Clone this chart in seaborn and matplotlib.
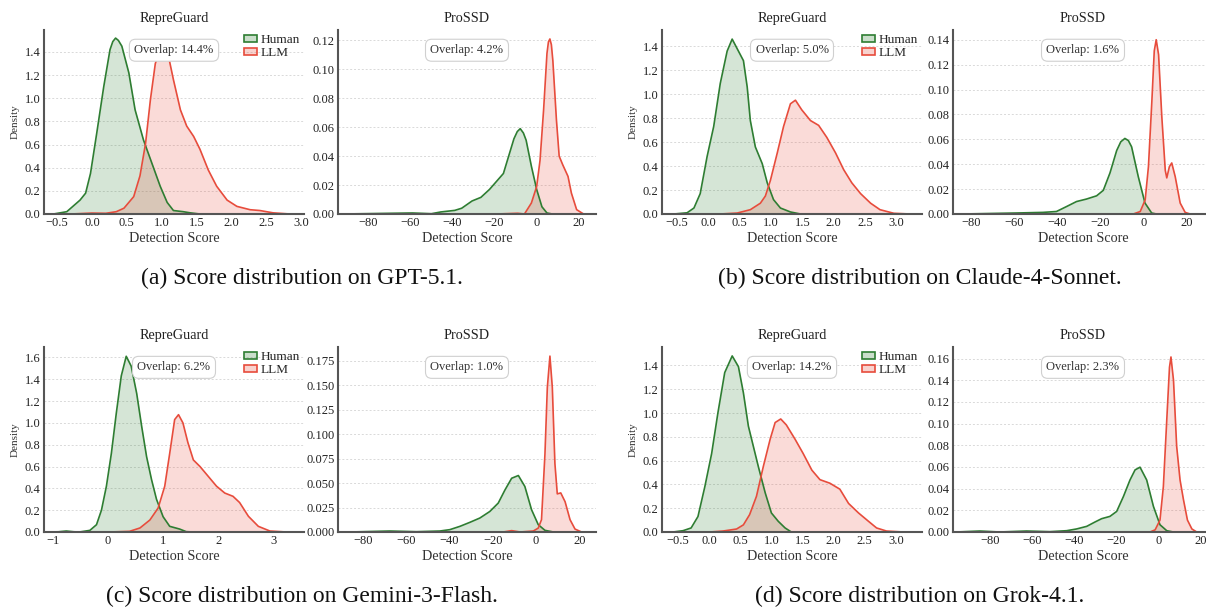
import numpy as np
import pandas as pd
import matplotlib
matplotlib.use("Agg")
import matplotlib.pyplot as plt
from matplotlib.patches import Patch
from matplotlib.ticker import MultipleLocator
import seaborn as sns

# ---------------- data ----------------
models = ["GPT-5.1", "Claude-4-Sonnet", "Gemini-3-Flash", "Grok-4.1"]
captions = ["(a) Score distribution on GPT-5.1.",
            "(b) Score distribution on Claude-4-Sonnet.",
            "(c) Score distribution on Gemini-3-Flash.",
            "(d) Score distribution on Grok-4.1."]
methods = ["RepreGuard", "ProSSD"]
overlaps = [[14.4, 4.2], [5.0, 1.6], [6.2, 1.0], [14.2, 2.3]]

# GPT-5.1
gpt_rg_h_x = [-0.55, -0.36, -0.17, -0.09, -0.02, 0.07, 0.17, 0.26, 0.30, 0.34, 0.38, 0.43, 0.53, 0.62, 0.74, 0.86, 0.98, 1.08, 1.17, 1.31, 1.41, 1.55]
gpt_rg_h_y = [0, 0.02, 0.12, 0.18, 0.35, 0.70, 1.10, 1.42, 1.49, 1.52, 1.50, 1.45, 1.22, 0.90, 0.64, 0.44, 0.24, 0.10, 0.03, 0.02, 0.01, 0]
gpt_rg_l_x = [-0.30, 0.0, 0.20, 0.35, 0.46, 0.60, 0.69, 0.77, 0.84, 0.91, 0.98, 1.03, 1.10, 1.17, 1.27, 1.36, 1.46, 1.55, 1.67, 1.79, 1.94, 2.08, 2.27, 2.41, 2.60, 2.84]
gpt_rg_l_y = [0, 0.008, 0.006, 0.02, 0.05, 0.15, 0.33, 0.61, 0.99, 1.30, 1.42, 1.44, 1.36, 1.16, 0.90, 0.76, 0.67, 0.56, 0.38, 0.24, 0.12, 0.066, 0.037, 0.03, 0.01, 0]
gpt_ps_h_x = [-92, -59, -50, -45.6, -38.9, -35.6, -30.7, -26.5, -22.4, -19.1, -15.8, -13.3, -10.8, -9.2, -7.8, -6.3, -5.0, -2.5, 0, 2.5, 4.9, 7.4]
gpt_ps_h_y = [0, 0.0007, 0.0002, 0.0014, 0.0025, 0.004, 0.009, 0.0115, 0.017, 0.0225, 0.028, 0.040, 0.052, 0.057, 0.059, 0.056, 0.051, 0.033, 0.017, 0.005, 0.0007, 0]
gpt_ps_l_x = [-19, -9, -5.8, -2.5, 0, 1.6, 3.3, 4.9, 5.6, 6.3, 7.0, 7.7, 9.4, 10.7, 12.4, 14.9, 16.5, 19, 22.3]
gpt_ps_l_y = [0, 0.0005, 0, 0.0076, 0.019, 0.037, 0.072, 0.111, 0.119, 0.121, 0.117, 0.106, 0.065, 0.040, 0.034, 0.026, 0.0145, 0.003, 0]

# Claude-4-Sonnet
cla_rg_h_x = [-0.55, -0.34, -0.23, -0.13, -0.02, 0.085, 0.19, 0.30, 0.38, 0.48, 0.56, 0.62, 0.67, 0.75, 0.86, 0.94, 1.04, 1.15, 1.31, 1.47]
cla_rg_h_y = [0, 0.01, 0.05, 0.17, 0.48, 0.73, 1.09, 1.36, 1.46, 1.36, 1.28, 1.06, 0.78, 0.56, 0.42, 0.26, 0.12, 0.05, 0.017, 0]
cla_rg_l_x = [0.19, 0.46, 0.67, 0.83, 0.91, 0.99, 1.10, 1.20, 1.31, 1.39, 1.49, 1.63, 1.76, 1.89, 2.03, 2.16, 2.29, 2.43, 2.59, 2.74, 2.96, 3.22]
cla_rg_l_y = [0, 0.008, 0.036, 0.09, 0.15, 0.28, 0.51, 0.73, 0.92, 0.95, 0.87, 0.78, 0.74, 0.64, 0.51, 0.37, 0.26, 0.17, 0.09, 0.036, 0.006, 0]
cla_ps_h_x = [-83.6, -58.8, -46.5, -40.3, -35.6, -31, -26.4, -21.7, -18.6, -15.5, -12.4, -10.5, -8.6, -7.0, -5.5, -2.4, 0.7, 3.8, 6]
cla_ps_h_y = [0, 0.0008, 0.0013, 0.002, 0.006, 0.010, 0.012, 0.0146, 0.019, 0.033, 0.051, 0.058, 0.0607, 0.059, 0.054, 0.030, 0.0088, 0.0008, 0]
cla_ps_l_x = [-4.7, -1.5, 0.8, 2.3, 3.9, 5.0, 5.9, 7.0, 8.5, 10.1, 10.8, 12.0, 13.1, 14.7, 17, 19.3, 21.6]
cla_ps_l_y = [0, 0.002, 0.0114, 0.038, 0.091, 0.131, 0.140, 0.128, 0.078, 0.035, 0.029, 0.038, 0.041, 0.030, 0.0088, 0.0013, 0]

# Gemini-3-Flash
gem_rg_h_x = [-1.06, -0.90, -0.76, -0.62, -0.52, -0.33, -0.21, -0.12, -0.03, 0.06, 0.15, 0.24, 0.33, 0.42, 0.52, 0.61, 0.70, 0.79, 0.88, 1.0, 1.12, 1.30, 1.42, 1.55]
gem_rg_h_y = [0, 0.002, 0.009, 0.002, 0, 0.015, 0.067, 0.20, 0.42, 0.72, 1.09, 1.43, 1.61, 1.52, 1.27, 0.97, 0.69, 0.48, 0.30, 0.14, 0.052, 0.027, 0.003, 0]
gem_rg_l_x = [0.03, 0.39, 0.58, 0.76, 0.91, 1.03, 1.12, 1.21, 1.28, 1.36, 1.45, 1.55, 1.67, 1.82, 1.97, 2.12, 2.27, 2.39, 2.55, 2.73, 2.94, 3.24]
gem_rg_l_y = [0, 0.006, 0.037, 0.11, 0.22, 0.42, 0.72, 1.03, 1.075, 1.0, 0.82, 0.66, 0.60, 0.51, 0.42, 0.357, 0.327, 0.27, 0.144, 0.052, 0.009, 0]
gem_ps_h_x = [-86, -67.7, -55.3, -44.5, -39.9, -35.2, -30.6, -26, -21.4, -17.5, -14.4, -11.3, -8.2, -5.2, -2.1, 1.0, 4.1, 8]
gem_ps_h_y = [0, 0.001, 0.0003, 0.001, 0.0024, 0.0058, 0.0099, 0.0143, 0.021, 0.0296, 0.043, 0.055, 0.0578, 0.0466, 0.0228, 0.0075, 0.0017, 0]
gem_ps_l_x = [-15.2, -11.3, -7.4, -1.3, 1.0, 2.5, 4.1, 5.2, 6.4, 7.5, 8.7, 9.8, 11.4, 13.4, 15.7, 18, 21]
gem_ps_l_y = [0, 0.0014, 0, 0.001, 0.004, 0.0126, 0.080, 0.148, 0.180, 0.148, 0.070, 0.039, 0.040, 0.031, 0.0126, 0.003, 0]

# Grok-4.1
grk_rg_h_x = [-0.58, -0.42, -0.29, -0.18, -0.07, 0.04, 0.14, 0.25, 0.37, 0.47, 0.55, 0.63, 0.71, 0.79, 0.90, 1.0, 1.11, 1.22, 1.32]
grk_rg_h_y = [0, 0.011, 0.034, 0.13, 0.38, 0.66, 1.0, 1.34, 1.48, 1.39, 1.17, 0.89, 0.72, 0.55, 0.33, 0.16, 0.09, 0.034, 0]
grk_rg_l_x = [0.01, 0.22, 0.44, 0.55, 0.65, 0.76, 0.87, 0.98, 1.06, 1.15, 1.24, 1.38, 1.51, 1.65, 1.78, 1.94, 2.10, 2.24, 2.40, 2.56, 2.69, 2.85, 3.12]
grk_rg_l_y = [0, 0.008, 0.025, 0.06, 0.146, 0.30, 0.55, 0.78, 0.92, 0.95, 0.90, 0.78, 0.66, 0.52, 0.44, 0.41, 0.36, 0.24, 0.16, 0.09, 0.034, 0.008, 0]
grk_ps_h_x = [-95.8, -84.7, -75.3, -62.6, -51.5, -43.6, -38.9, -34.1, -30.2, -27, -23.1, -19.9, -16.7, -13.6, -11.2, -8.85, -5.7, -2.5, 0.6, 3.8, 6.9]
grk_ps_h_y = [0, 0.0009, 0, 0.0009, 0.0003, 0.0012, 0.0028, 0.0052, 0.0092, 0.0123, 0.0144, 0.019, 0.0328, 0.048, 0.0573, 0.0598, 0.048, 0.0236, 0.0067, 0.0012, 0]
grk_ps_l_x = [-4.1, -1.7, 0.6, 2.2, 3.8, 5.1, 5.8, 7.0, 8.5, 10.1, 11.7, 13.6, 15.7, 18]
grk_ps_l_y = [0, 0.002, 0.011, 0.042, 0.103, 0.152, 0.1615, 0.140, 0.079, 0.048, 0.030, 0.011, 0.0028, 0]

curves = {
    ("GPT-5.1", "RepreGuard"): (gpt_rg_h_x, gpt_rg_h_y, gpt_rg_l_x, gpt_rg_l_y),
    ("GPT-5.1", "ProSSD"): (gpt_ps_h_x, gpt_ps_h_y, gpt_ps_l_x, gpt_ps_l_y),
    ("Claude-4-Sonnet", "RepreGuard"): (cla_rg_h_x, cla_rg_h_y, cla_rg_l_x, cla_rg_l_y),
    ("Claude-4-Sonnet", "ProSSD"): (cla_ps_h_x, cla_ps_h_y, cla_ps_l_x, cla_ps_l_y),
    ("Gemini-3-Flash", "RepreGuard"): (gem_rg_h_x, gem_rg_h_y, gem_rg_l_x, gem_rg_l_y),
    ("Gemini-3-Flash", "ProSSD"): (gem_ps_h_x, gem_ps_h_y, gem_ps_l_x, gem_ps_l_y),
    ("Grok-4.1", "RepreGuard"): (grk_rg_h_x, grk_rg_h_y, grk_rg_l_x, grk_rg_l_y),
    ("Grok-4.1", "ProSSD"): (grk_ps_h_x, grk_ps_h_y, grk_ps_l_x, grk_ps_l_y),
}

# ---------------- layout / style ----------------
W, H = 1206, 608
GREEN = "#2E7D32"
RED = "#E74C3C"
FILL_ALPHA = 0.2

# pixel rectangles (left, top, right, bottom) per model: [RepreGuard, ProSSD]
axes_px = {
    "GPT-5.1": [(44, 30, 304, 214), (338, 30, 596, 214)],
    "Claude-4-Sonnet": [(662, 30, 922, 214), (953, 30, 1213, 214)],
    "Gemini-3-Flash": [(44, 347, 304, 532), (338, 347, 596, 532)],
    "Grok-4.1": [(662, 347, 922, 532), (953, 347, 1213, 532)],
}
xlims = {
    "GPT-5.1": [(-0.687, 3.043), (-94.4, 28.2)],
    "Claude-4-Sonnet": [(-0.74, 3.41), (-88.2, 32.2)],
    "Gemini-3-Flash": [(-1.164, 3.56), (-91.6, 27.7)],
    "Grok-4.1": [(-0.758, 3.42), (-97.4, 25.7)],
}
ylims = {
    "GPT-5.1": [1.590, 0.1272],
    "Claude-4-Sonnet": [1.536, 0.1478],
    "Gemini-3-Flash": [1.695, 0.1893],
    "Grok-4.1": [1.555, 0.1707],
}
xsteps = {
    "GPT-5.1": [0.5, 20], "Claude-4-Sonnet": [0.5, 20],
    "Gemini-3-Flash": [1, 20], "Grok-4.1": [0.5, 20],
}
ysteps = {
    "GPT-5.1": [0.2, 0.02], "Claude-4-Sonnet": [0.2, 0.02],
    "Gemini-3-Flash": [0.2, 0.025], "Grok-4.1": [0.2, 0.02],
}
caption_pos = {"GPT-5.1": (302, 278), "Claude-4-Sonnet": (920, 278),
               "Gemini-3-Flash": (302, 596), "Grok-4.1": (920, 596)}

sns.set_theme(style="whitegrid")
plt.rcParams["font.family"] = ["Liberation Serif", "DejaVu Serif"]
plt.rcParams["mathtext.fontset"] = "stix"

fig = plt.figure(figsize=(W / 100, H / 100), dpi=100)
fig.patch.set_facecolor("white")


def rect(l, t, r, b):
    return [l / W, 1 - b / H, (r - l) / W, (b - t) / H]


for model in models:
    for j, method in enumerate(methods):
        ax = fig.add_axes(rect(*axes_px[model][j]))
        ax.set_facecolor("white")
        hx, hy, lx, ly = curves[(model, method)]
        for xs, ys, col in [(hx, hy, GREEN), (lx, ly, RED)]:
            df = pd.DataFrame({"score": xs, "density": ys})
            ax.fill_between(df["score"], df["density"], 0, color=col,
                            alpha=FILL_ALPHA, linewidth=0, zorder=2)
            sns.lineplot(data=df, x="score", y="density", ax=ax, color=col,
                         linewidth=1.2, sort=False, estimator=None, zorder=3)
        ax.set_xlim(*xlims[model][j])
        ax.set_ylim(0, ylims[model][j])
        ax.xaxis.set_major_locator(MultipleLocator(xsteps[model][j]))
        ax.yaxis.set_major_locator(MultipleLocator(ysteps[model][j]))
        ax.grid(axis="x", visible=False)
        ax.grid(axis="y", color="#d9d9d9", linestyle=(0, (2, 2)), linewidth=0.7)
        for s in ["top", "right"]:
            ax.spines[s].set_visible(False)
        for s in ["left", "bottom"]:
            ax.spines[s].set_color("#555555")
            ax.spines[s].set_linewidth(1.5)
            ax.spines[s].set_zorder(4)
        ax.tick_params(axis="both", length=0, pad=2.5, labelsize=9, labelcolor="#222222")
        ax.set_title(method, fontsize=10.3, pad=6, color="#222222")
        ax.set_xlabel("Detection Score", fontsize=10.2, labelpad=2, color="#333333")
        if j == 0:
            ax.set_ylabel("Density", fontsize=8, labelpad=4, color="#333333")
            handles = [Patch(facecolor=matplotlib.colors.to_rgba(GREEN, 0.25), edgecolor=GREEN, linewidth=1.2),
                       Patch(facecolor=matplotlib.colors.to_rgba(RED, 0.25), edgecolor=RED, linewidth=1.2)]
            ax.legend(handles, ["Human", "LLM"], loc="upper right",
                      bbox_to_anchor=(1.0, 1.0), frameon=False, fontsize=9.5,
                      handlelength=1.0, handleheight=0.4, handletextpad=0.3,
                      labelspacing=0.1, borderaxespad=0.1, borderpad=0.2)
        else:
            ax.set_ylabel("")
        ax.text(0.5, 0.89, f"Overlap: {overlaps[models.index(model)][j]:.1f}%",
                transform=ax.transAxes, ha="center", va="center", fontsize=9,
                color="#333333", zorder=5,
                bbox=dict(boxstyle="round,pad=0.4,rounding_size=0.5",
                          facecolor="white", edgecolor="#d0d0d0", linewidth=0.8))
    cx, cy = caption_pos[model]
    fig.text(cx / W, 1 - cy / H, captions[models.index(model)], ha="center",
             va="center", fontsize=17, color="#111111")

fig.savefig("out.png", dpi=100, facecolor="white")
